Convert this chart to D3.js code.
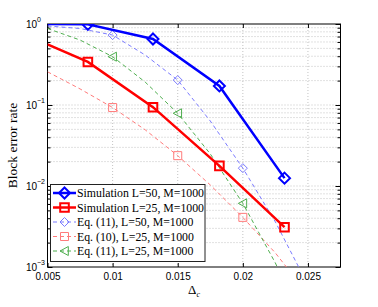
<!DOCTYPE html>
<html>
<head>
<meta charset="utf-8">
<script src="https://cdn.jsdelivr.net/npm/d3@7"></script>
<style>
  body { margin: 0; background: #fff; }
  svg { display: block; }
  .tick text { font-family: "Liberation Sans", Arial, sans-serif; font-size: 10px; fill: #000; }
  .serif { font-family: "Liberation Serif", "Times New Roman", serif; }
</style>
</head>
<body>
<svg id="chart" width="378" height="307"></svg>
<script>
// Block error rate vs Delta_c, log scale

// --- Data ---
const xTicks = [0.005, 0.01, 0.015, 0.02, 0.025];
const xTickLabels = ["0.005", "0.01", "0.015", "0.02", "0.025"];
const yDecades = [1, 0.1, 0.01, 0.001];
const yTickExps = ["0", "\u22121", "\u22122", "\u22123"];

// simulation points (first point has no marker)
const simX = [0.005, 0.0081, 0.0131, 0.0182, 0.0232];
const simL50 = [1.0, 0.99, 0.653, 0.172, 0.0125];
const simL25 = [0.56, 0.34, 0.094, 0.0177, 0.0031];

// analytical curves
const eqX = [0.005, 0.0075, 0.01, 0.0125, 0.015, 0.0175, 0.02, 0.0225, 0.025];
const eq11L50 = [0.945, 0.88, 0.73, 0.414, 0.203, 0.0635, 0.0166, 0.0036, 0.0006];
const eq10L25 = [0.257, 0.158, 0.093, 0.0494, 0.0237, 0.0103, 0.0041, 0.00149, 0.00046];
const eq11L25 = [0.88, 0.634, 0.395, 0.192, 0.079, 0.0249, 0.0061, 0.00112, 0.00015];
const eqMarkerIdx = [2, 4, 6];

const legendLabels = [
  "Simulation L=50, M=1000",
  "Simulation L=25, M=1000",
  "Eq. (11), L=50, M=1000",
  "Eq. (10), L=25, M=1000",
  "Eq. (11), L=25, M=1000"
];

// --- Setup ---
const svg = d3.select("#chart");
const pLeft = 47.5, pRight = 340.5, pTop = 24, pBottom = 267;

const x = d3.scaleLinear().domain([0.005, 0.0275]).range([pLeft, pRight]);
const y = d3.scaleLog().domain([0.001, 1]).range([pBottom, pTop]);

svg.append("defs").append("clipPath").attr("id", "plotclip")
  .append("rect").attr("x", pLeft).attr("y", pTop)
  .attr("width", pRight - pLeft).attr("height", pBottom - pTop);

// grid
const minorY = [];
yDecades.slice(1).forEach(d => { for (let k = 2; k <= 9; k++) minorY.push(d * k); });

const grid = svg.append("g").attr("stroke", "#b4b4b4").attr("stroke-width", 0.8)
  .attr("stroke-dasharray", "1,2");
grid.selectAll(".gx").data(xTicks.slice(1)).enter().append("line")
  .attr("x1", d => x(d)).attr("x2", d => x(d)).attr("y1", pTop).attr("y2", pBottom);
grid.selectAll(".gy").data(yDecades.slice(1, 3).concat(minorY)).enter().append("line")
  .attr("x1", pLeft).attr("x2", pRight).attr("y1", d => y(d)).attr("y2", d => y(d));

// axes
const xAxis = d3.axisBottom(x).tickValues(xTicks).tickFormat((d, i) => xTickLabels[i])
  .tickSizeInner(-4).tickSizeOuter(0).tickPadding(6);
svg.append("g").attr("transform", `translate(0,${pBottom})`).call(xAxis)
  .call(g => g.select(".domain").remove());
svg.append("g").attr("transform", `translate(0,${pTop})`)
  .call(d3.axisTop(x).tickValues(xTicks).tickFormat("").tickSizeInner(-4).tickSizeOuter(0))
  .call(g => g.select(".domain").remove());

const yAll = yDecades.concat(minorY);
svg.append("g").attr("transform", `translate(${pLeft},0)`)
  .call(d3.axisLeft(y).tickValues(yAll).tickFormat("").tickSizeInner(-3).tickSizeOuter(0))
  .call(g => g.select(".domain").remove())
  .call(g => g.selectAll(".tick line").attr("x2", d => yDecades.includes(d) ? 5 : 3));
svg.append("g").attr("transform", `translate(${pRight},0)`)
  .call(d3.axisRight(y).tickValues(yAll).tickFormat("").tickSizeInner(-3).tickSizeOuter(0))
  .call(g => g.select(".domain").remove())
  .call(g => g.selectAll(".tick line").attr("x2", d => yDecades.includes(d) ? -5 : -3));

// y tick labels 10^n
const yl = svg.append("g").attr("font-family", "Liberation Sans, Arial, sans-serif");
yDecades.forEach((d, i) => {
  yl.append("text").attr("x", 37).attr("y", y(d) + 4)
    .attr("text-anchor", "end").attr("font-size", 10).text("10");
  yl.append("text").attr("x", 37).attr("y", y(d) - 2)
    .attr("font-size", 7).text(yTickExps[i]);
});

// frame
svg.append("rect").attr("x", pLeft).attr("y", pTop).attr("width", pRight - pLeft)
  .attr("height", pBottom - pTop).attr("fill", "none").attr("stroke", "#000").attr("stroke-width", 1);

// --- Series ---
const line = d3.line().x(d => x(d[0])).y(d => y(d[1]));
const plot = svg.append("g").attr("clip-path", "url(#plotclip)");

const diamond = r => `M0,${-r}L${r},0L0,${r}L${-r},0Z`;
const square = r => `M${-r},${-r}H${r}V${r}H${-r}Z`;
const triLeft = r => `M${-r},0L${r * 0.85},${-r}L${r * 0.85},${r}Z`;

const series = [
  { xs: simX, ys: simL50, color: "#0000ff", width: 2.5, dash: null, shape: diamond(5.5), mw: 2, idx: [1, 2, 3, 4] },
  { xs: simX, ys: simL25, color: "#ff0000", width: 2.5, dash: null, shape: square(4.3), mw: 2, idx: [1, 2, 3, 4] },
  { xs: eqX, ys: eq11L50, color: "#7b7bff", width: 1, dash: "4,3", shape: diamond(4.5), mw: 1, idx: eqMarkerIdx },
  { xs: eqX, ys: eq10L25, color: "#ff7b7b", width: 1, dash: "4,3", shape: square(4), mw: 1, idx: eqMarkerIdx },
  { xs: eqX, ys: eq11L25, color: "#4fae4f", width: 1, dash: "4,3", shape: triLeft(4.5), mw: 1, idx: eqMarkerIdx }
];

// dashed curves beneath solid ones
[2, 3, 4, 0, 1].forEach(si => {
  const s = series[si];
  const pts = s.xs.map((v, i) => [v, s.ys[i]]);
  plot.append("path").datum(pts).attr("d", line).attr("fill", "none")
    .attr("stroke", s.color).attr("stroke-width", s.width)
    .attr("stroke-dasharray", s.dash);
  plot.selectAll(null).data(s.idx.map(i => pts[i])).enter().append("path")
    .attr("transform", d => `translate(${x(d[0])},${y(d[1])})`)
    .attr("d", s.shape).attr("fill", "none").attr("stroke", s.color).attr("stroke-width", s.mw);
});

// --- Legend ---
const lg = svg.append("g");
lg.append("rect").attr("x", 50.5).attr("y", 184.5).attr("width", 154.5).attr("height", 77)
  .attr("fill", "#fff").attr("stroke", "#222").attr("stroke-width", 1);
series.forEach((s, i) => {
  const ly = 193 + i * 14.5;
  lg.append("line").attr("x1", 53).attr("x2", 76).attr("y1", ly).attr("y2", ly)
    .attr("stroke", s.color).attr("stroke-width", s.width).attr("stroke-dasharray", s.dash);
  lg.append("path").attr("transform", `translate(64.5,${ly})`).attr("d", s.shape)
    .attr("fill", "none").attr("stroke", s.color).attr("stroke-width", s.mw);
  lg.append("text").attr("class", "serif").attr("x", 77).attr("y", ly + 4)
    .attr("font-size", 11.8).text(legendLabels[i]);
});

// --- Axis titles ---
svg.append("text").attr("class", "serif").attr("font-size", 13.5)
  .attr("text-anchor", "middle")
  .attr("transform", `translate(17,${(pTop + pBottom) / 2}) rotate(-90)`)
  .text("Block error rate");

const xt = svg.append("text").attr("class", "serif").attr("x", 194).attr("y", 294)
  .attr("text-anchor", "middle").attr("font-size", 13);
xt.append("tspan").text("\u0394");
xt.append("tspan").attr("font-size", 8).attr("dy", 3).attr("font-style", "italic").text("c");
</script>
</body>
</html>
